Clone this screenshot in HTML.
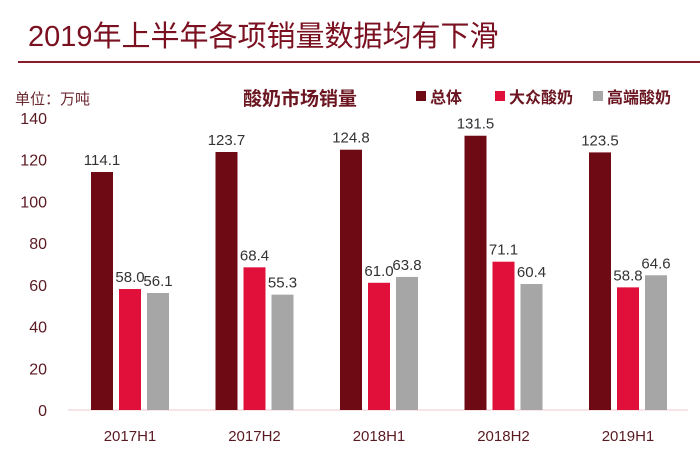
<!DOCTYPE html>
<html><head><meta charset="utf-8"><style>
body{margin:0;width:700px;height:448px;background:#fff;overflow:hidden;font-family:"Liberation Sans","Noto Sans CJK SC",sans-serif}
</style></head><body>
<svg id="c" width="700" height="448" xmlns="http://www.w3.org/2000/svg">
<text x="28" y="46" font-size="29" fill="#7a1020" font-family="Liberation Sans,Noto Sans CJK SC,sans-serif">2019年上半年各项销量数据均有下滑</text>
<rect x="18" y="61" width="682" height="2" fill="#8b1a2a"/>
<text x="15" y="104" font-size="15" fill="#6a2a30">单位：万吨</text>
<text x="300" y="105" font-size="19" font-weight="bold" fill="#6a1520" text-anchor="middle">酸奶市场销量</text>
<g id="legend"></g>
<g id="axis"></g>
<g id="bars"></g>
</svg>
<script>
const categories=["2017H1","2017H2","2018H1","2018H2","2019H1"];
const seriesNames=["总体","大众酸奶","高端酸奶"];
const total=[114.1,123.7,124.8,131.5,123.5];
const mass=[58.0,68.4,61.0,71.1,58.8];
const premium=[56.1,55.3,63.8,60.4,64.6];
const yTicks=[0,20,40,60,80,100,120,140];
const colors=["#6e0a14","#e0103a","#a6a6a6"];
const NS="http://www.w3.org/2000/svg";
const y0=410,yTop=118,vmax=140;
const y=v=>y0-(v/vmax)*(y0-yTop);
const x0=68,groupW=124.5;
const xg=i=>x0+groupW*i;
function mk(t,a,p){const e=document.createElementNS(NS,t);for(const k in a)e.setAttribute(k,a[k]);p.appendChild(e);return e;}
const axis=document.getElementById('axis');
yTicks.forEach(t=>{
  const tx=mk('text',{x:47,y:y(t)+6,'font-size':16,fill:'#5a1a22','text-anchor':'end'},axis);
  
  
  tx.textContent=t;
});
const base=mk('line',{x1:68,x2:688,y1:y0,y2:y0,stroke:'#f0c8cc','stroke-width':1},axis);


const bars=document.getElementById('bars');
const series=[total,mass,premium];
categories.forEach((c,i)=>{
  const gx=xg(i);
  series.forEach((s,j)=>{
    const bx=gx+23+j*28,bw=22;
    const r=mk('rect',{x:bx,y:y(s[i]),width:bw,height:y0-y(s[i]),fill:colors[j]},bars);
    
    
    const t=mk('text',{x:bx+bw/2,y:y(s[i])-7,'font-size':15,fill:'#333','text-anchor':'middle'},bars);
    
    
    t.textContent=s[i].toFixed(1);
  });
  const l=mk('text',{x:gx+62,y:441,'font-size':15,fill:'#5a1a22','text-anchor':'middle'},axis);
  
  
  l.textContent=c;
});
const lg=document.getElementById('legend');
const lx=[416,495,593];
seriesNames.forEach((n,j)=>{
  const r=mk('rect',{x:lx[j],y:91,width:10,height:10,fill:colors[j]},lg);
  
  
  const t=mk('text',{x:lx[j]+14,y:103,'font-size':16,'font-weight':'bold',fill:'#6a1520'},lg);
  
  
  t.textContent=n;
});
</script>
</body></html>
